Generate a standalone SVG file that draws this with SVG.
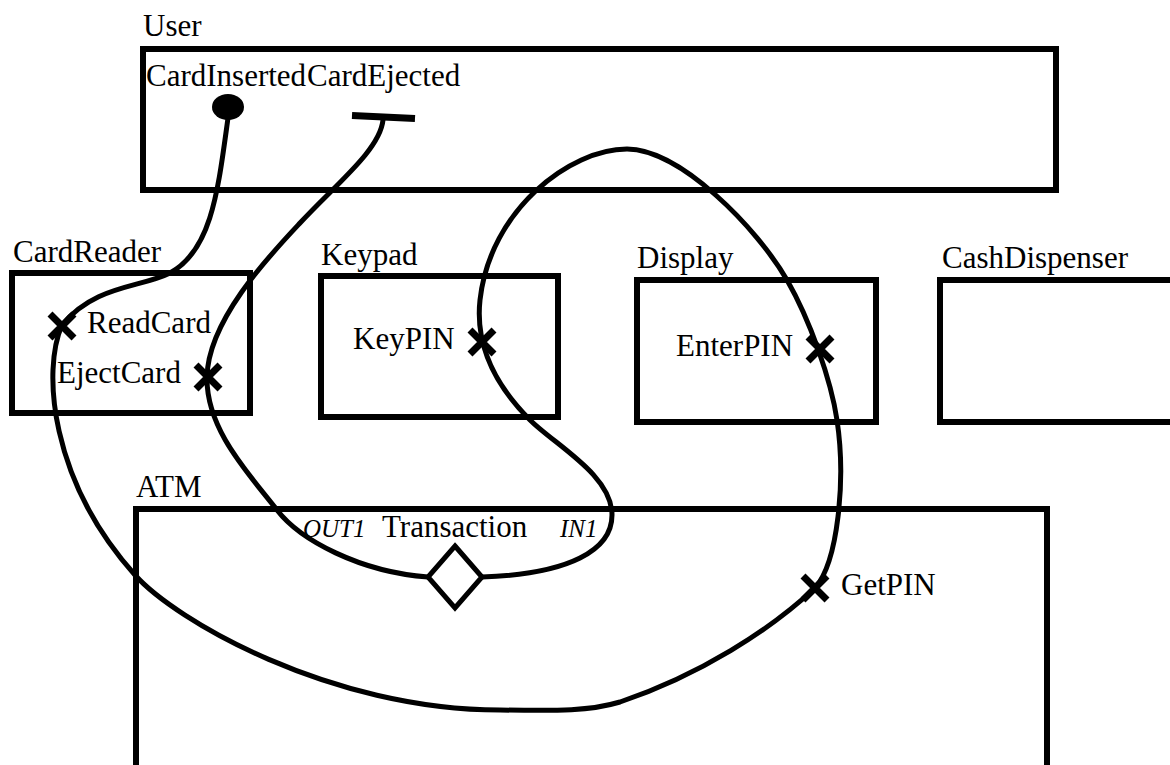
<svg xmlns="http://www.w3.org/2000/svg" width="1170" height="765" viewBox="0 0 1170 765">
<style>
.box{fill:none;stroke:#000;stroke-width:6}
text{font-family:'Liberation Serif','DejaVu Serif','Times New Roman',serif;fill:#000}
.lbl{font-size:31px}
.it{font-size:25px;font-style:italic}
.wire{fill:none;stroke:#000;stroke-width:5;stroke-linecap:round;stroke-linejoin:round}
.x{fill:none;stroke:#000;stroke-width:7}
</style>
<defs>
<path id="xm" class="x" d="M-12,-12 L12,12 M12,-12 L-12,12"/>
</defs>
<rect width="1170" height="765" fill="#fff"/>
<g id="User">
<rect class="box" x="143" y="49" width="913" height="141"/>
<text class="lbl" font-family="Liberation Serif" x="143" y="36">User</text>
<text class="lbl" font-family="Liberation Serif" x="146" y="86">CardInserted</text>
<text class="lbl" font-family="Liberation Serif" x="307" y="86">CardEjected</text>
<ellipse cx="228" cy="107" rx="16" ry="13" fill="#000"/>
<line x1="352" y1="115.5" x2="415" y2="118.5" stroke="#000" stroke-width="7"/>
</g>
<g id="CardReader">
<rect class="box" x="12" y="273" width="238" height="140"/>
<text class="lbl" font-family="Liberation Serif" x="13" y="262">CardReader</text>
<text class="lbl" font-family="Liberation Serif" x="87" y="333">ReadCard</text>
<text class="lbl" font-family="Liberation Serif" x="57" y="383">EjectCard</text>
<use href="#xm" x="62" y="326"/>
<use href="#xm" x="208" y="377"/>
</g>
<g id="Keypad">
<rect class="box" x="321" y="276" width="237" height="141"/>
<text class="lbl" font-family="Liberation Serif" x="321" y="265">Keypad</text>
<text class="lbl" font-family="Liberation Serif" x="353" y="349">KeyPIN</text>
<use href="#xm" x="482" y="342"/>
</g>
<g id="Display">
<rect class="box" x="637" y="280" width="239" height="142"/>
<text class="lbl" font-family="Liberation Serif" x="637" y="268">Display</text>
<text class="lbl" font-family="Liberation Serif" x="676" y="356">EnterPIN</text>
<use href="#xm" x="820" y="349"/>
</g>
<g id="CashDispenser">
<rect class="box" x="940" y="280" width="250" height="142"/>
<text class="lbl" font-family="Liberation Serif" x="942" y="268">CashDispenser</text>
</g>
<g id="ATM">
<rect class="box" x="136" y="509" width="911" height="280"/>
<text class="lbl" font-family="Liberation Serif" x="136" y="497">ATM</text>
<text class="it" font-family="Liberation Serif" x="303" y="537">OUT1</text>
<text class="lbl" font-family="Liberation Serif" x="382" y="537">Transaction</text>
<text class="it" font-family="Liberation Serif" x="560" y="537">IN1</text>
<text class="lbl" font-family="Liberation Serif" x="841" y="595">GetPIN</text>
<use href="#xm" x="815" y="588"/>
</g>
<g id="Transaction-diamond">
<polygon points="455,546 482,577 455,608 428,577" fill="#fff" stroke="#000" stroke-width="5"/>
</g>
<g id="connectors">
<path class="wire" d="M228,118 C218,190 212,250 170,273 C140,288 95,285 62,325 C42,370 50,480 135,575 C175,620 330,710 500,710 C560,711 590,711 620,702 C700,675 770,630 815,588 C838,562 846,480 837,420 C831,380 810,320 787,280 C757,228 680,149 627,149 C570,149 490,210 480,300 C474,355 505,395 530,420 C555,445 612,475 612,515 C612,550 570,574 482,577"/>
<path class="wire" d="M383,120 C380,150 335,185 300,223 C270,255 208,320 207,377 C206,430 250,475 277,510 C300,540 360,572 428,577"/>
</g>
</svg>
